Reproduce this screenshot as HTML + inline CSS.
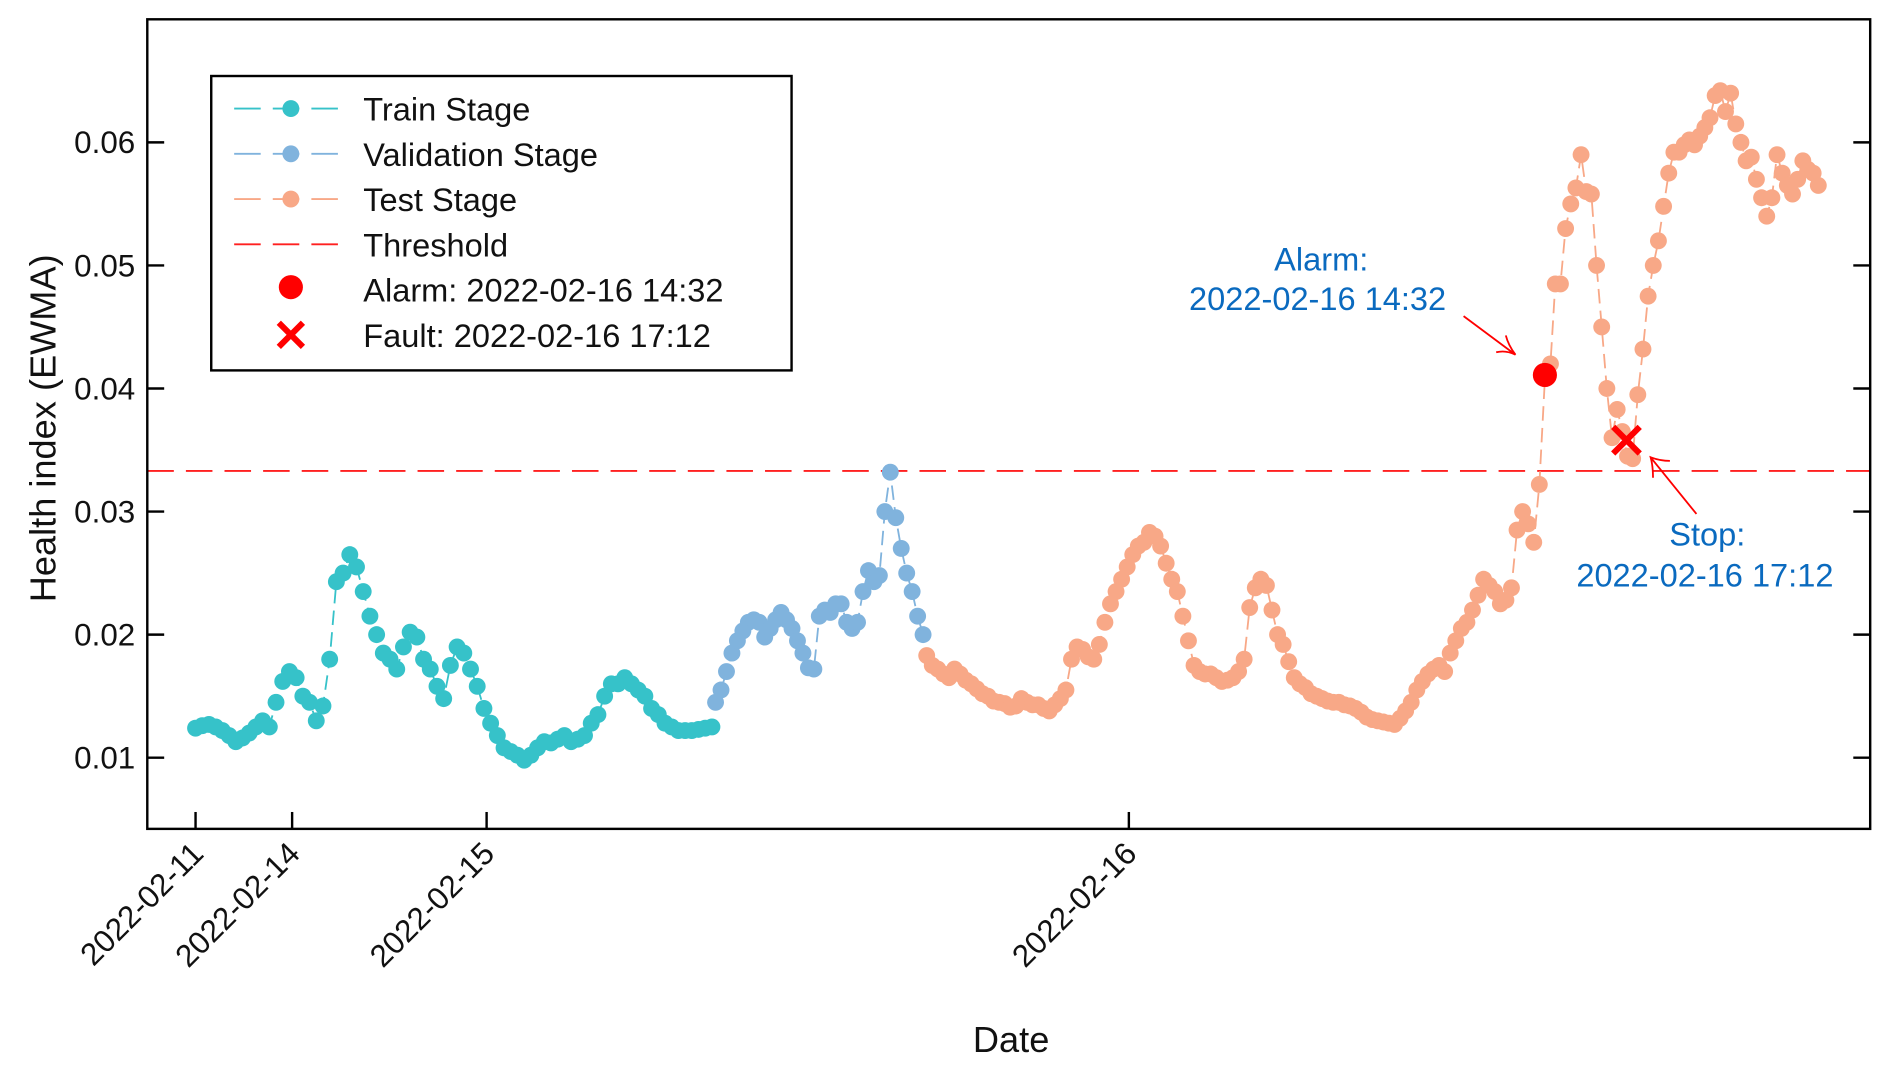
<!DOCTYPE html>
<html><head><meta charset="utf-8">
<style>
html,body{margin:0;padding:0;background:#fff;}
svg{display:block;font-family:"Liberation Sans",sans-serif;}
</style></head>
<body>
<svg id="chart" width="1892" height="1075" viewBox="0 0 1568 891" xmlns="http://www.w3.org/2000/svg">
<g id="plot"></g>
</svg>
<script>
const trainVals=[0.0124,0.0126,0.0127,0.0125,0.0122,0.0118,0.0113,0.0116,0.012,0.0125,0.013,0.0125,0.0145,0.0162,0.017,0.0165,0.015,0.0145,0.013,0.0142,0.018,0.0243,0.025,0.0265,0.0255,0.0235,0.0215,0.02,0.0185,0.018,0.0172,0.019,0.0202,0.0198,0.018,0.0172,0.0158,0.0148,0.0175,0.019,0.0185,0.0172,0.0158,0.014,0.0128,0.0118,0.0108,0.0105,0.0102,0.0098,0.0102,0.0108,0.0113,0.0112,0.0115,0.0118,0.0113,0.0115,0.0118,0.0128,0.0135,0.015,0.016,0.016,0.0165,0.016,0.0155,0.015,0.014,0.0135,0.0128,0.0125,0.0122,0.0122,0.0122,0.0123,0.0124,0.0125];
const valVals=[0.0145,0.0155,0.017,0.0185,0.0195,0.0203,0.021,0.0212,0.021,0.0198,0.0205,0.0212,0.0218,0.0212,0.0205,0.0195,0.0185,0.0173,0.0172,0.0215,0.022,0.0218,0.0225,0.0225,0.021,0.0205,0.021,0.0235,0.0252,0.0243,0.0248,0.03,0.0332,0.0295,0.027,0.025,0.0235,0.0215,0.02];
const testVals=[0.0183,0.0175,0.0172,0.0168,0.0165,0.0172,0.0168,0.0163,0.016,0.0156,0.0152,0.015,0.0146,0.0145,0.0144,0.0141,0.0142,0.0148,0.0145,0.0143,0.0143,0.014,0.0138,0.0143,0.0148,0.0155,0.018,0.019,0.0188,0.0182,0.018,0.0192,0.021,0.0225,0.0235,0.0245,0.0255,0.0265,0.0272,0.0275,0.0283,0.028,0.0272,0.0258,0.0245,0.0235,0.0215,0.0195,0.0175,0.017,0.0168,0.0168,0.0165,0.0162,0.0163,0.0165,0.017,0.018,0.0222,0.0238,0.0245,0.024,0.022,0.02,0.0192,0.0178,0.0165,0.016,0.0157,0.0152,0.015,0.0148,0.0146,0.0145,0.0145,0.0143,0.0142,0.014,0.0137,0.0133,0.0131,0.013,0.0129,0.0128,0.0127,0.0132,0.0138,0.0145,0.0155,0.0162,0.0168,0.0172,0.0175,0.017,0.0185,0.0195,0.0205,0.021,0.022,0.0232,0.0245,0.024,0.0235,0.0225,0.0228,0.0238,0.0285,0.03,0.029,0.0275,0.0322,0.0408,0.042,0.0485,0.0485,0.053,0.055,0.0563,0.059,0.056,0.0558,0.05,0.045,0.04,0.036,0.0383,0.0365,0.0345,0.0343,0.0395,0.0432,0.0475,0.05,0.052,0.0548,0.0575,0.0592,0.0592,0.0598,0.0602,0.0598,0.0605,0.0612,0.062,0.0638,0.0642,0.0625,0.064,0.0615,0.06,0.0585,0.0588,0.057,0.0555,0.054,0.0555,0.059,0.0575,0.0565,0.0558,0.057,0.0585,0.0578,0.0575,0.0565];
const yTicks=[0.01,0.02,0.03,0.04,0.05,0.06];
const yTickLabels=["0.01","0.02","0.03","0.04","0.05","0.06"];
const dateLabels=["2022-02-11","2022-02-14","2022-02-15","2022-02-16"];
const dateTickSamples=[0,14.4,43.4,153.3];
const threshold=0.0333;
const alarmValue=0.0411, alarmSample=117+111;
const faultValue=0.0358, faultSample=117+126.8;

const NS="http://www.w3.org/2000/svg";
const g=document.getElementById('plot');
const L=122,R=1550,T=16,B=687;
function y(v){return 628-(v-0.01)*10200;}
const nT=trainVals.length,nV=valVals.length,nS=testVals.length;
const testBreak=112;
function x(s){
  if(s<nT) return 162+(s/(nT-1))*(590-162);
  if(s<nT+nV) return 593+((s-nT)/(nV-1))*(765-593);
  const k=s-nT-nV;
  if(k<=testBreak) return 768+(k/testBreak)*(1285-768);
  return 1289+((k-testBreak-1)/(nS-testBreak-2))*(1507-1289);
}
function mk(tag,attrs,parent){const e=document.createElementNS(NS,tag);for(const k in attrs)e.setAttribute(k,attrs[k]);(parent||g).appendChild(e);return e;}

let th=mk('line',{x1:L,x2:R,y1:y(threshold),y2:y(threshold),stroke:'#ff2020','stroke-width':1.5,'stroke-dasharray':'22 10'});



function series(vals,off,color,name){
  const sg=mk('g',{});
  
  
  const pts=vals.map((v,i)=>x(off+i).toFixed(1)+','+y(v).toFixed(1)).join(' ');
  mk('polyline',{points:pts,fill:'none',stroke:color,'stroke-width':1.5,'stroke-dasharray':'12 6'},sg);
  vals.forEach((v,i)=>{
    const c=mk('circle',{cx:x(off+i),cy:y(v),r:7,fill:color},sg);
    
    
  });
}
series(trainVals,0,'#36c2c9','train-series');
series(valVals,nT,'#80b3dd','validation-series');
series(testVals,nT+nV,'#f8a887','test-series');

const ax=x(alarmSample),ay=y(alarmValue);
let am=mk('circle',{cx:ax,cy:ay,r:10,fill:'#ff0000'});


const fx=x(faultSample),fy=y(faultValue);
let fm=mk('path',{d:`M${fx-11},${fy-11}L${fx+11},${fy+11}M${fx+11},${fy-11}L${fx-11},${fy+11}`,stroke:'#ff0000','stroke-width':5});



let fr=mk('rect',{x:L,y:T,width:R-L,height:B-T,fill:'none',stroke:'#000','stroke-width':2});



yTicks.forEach((v,i)=>{
  mk('line',{x1:L,x2:L+14,y1:y(v),y2:y(v),stroke:'#000','stroke-width':2});
  mk('line',{x1:R-14,x2:R,y1:y(v),y2:y(v),stroke:'#000','stroke-width':2});
  const t=mk('text',{x:L-10,y:y(v)+9,'text-anchor':'end','font-size':26,fill:'#111'});
  t.textContent=yTickLabels[i];
  
  
});
dateLabels.forEach((d,i)=>{
  const px=x(dateTickSamples[i]);
  mk('line',{x1:px,x2:px,y1:B,y2:B-14,stroke:'#000','stroke-width':2});
  const t=mk('text',{x:0,y:0,'text-anchor':'end','font-size':26,fill:'#111',transform:`translate(${px+8},${B+22}) rotate(-45)`});
  t.textContent=d;
  
  
});

let xt=mk('text',{x:838,y:872,'text-anchor':'middle','font-size':30,fill:'#111'});xt.textContent='Date';


let yt=mk('text',{x:0,y:0,'text-anchor':'middle','font-size':30,fill:'#111',transform:'translate(46,355) rotate(-90)'});yt.textContent='Health index (EWMA)';



function txt(s,xx,yy,name){const t=mk('text',{x:xx,y:yy,'text-anchor':'middle','font-size':27,fill:'#0a6abf'});t.textContent=s;}
txt('Alarm:',1095,224,'alarm-annotation-title');
txt('2022-02-16 14:32',1092,257,'alarm-annotation-time');
txt('Stop:',1415,452,'stop-annotation-title');
txt('2022-02-16 17:12',1413,486,'stop-annotation-time');
let a1=mk('path',{d:'M1213,262L1256,294M1240,292Q1248,290 1256,294Q1250,286 1248,278',fill:'none',stroke:'#ff0000','stroke-width':1.5});


let a2=mk('path',{d:'M1406,426L1368,379M1370,396Q1370,386 1368,379Q1376,382 1384,382',fill:'none',stroke:'#ff0000','stroke-width':1.5});



const lg=mk('g',{});


mk('rect',{x:175,y:63,width:481,height:244,fill:'#fff',stroke:'#000','stroke-width':2},lg);
const entries=[['Train Stage','#36c2c9','pt'],['Validation Stage','#80b3dd','pt'],['Test Stage','#f8a887','pt'],['Threshold','#ff2020','line'],['Alarm: 2022-02-16 14:32','#ff0000','dot'],['Fault: 2022-02-16 17:12','#ff0000','x']];
entries.forEach((e,i)=>{
  const cy=90+i*37.5;
  const eg=mk('g',{},lg);
  
  
  if(e[2]==='pt'||e[2]==='line'){
    mk('line',{x1:194,x2:288,y1:cy,y2:cy,stroke:e[1],'stroke-width':1.5,'stroke-dasharray':'22 10'},eg);
  }
  if(e[2]==='pt') mk('circle',{cx:241,cy:cy,r:7,fill:e[1]},eg);
  if(e[2]==='dot') mk('circle',{cx:241,cy:cy-2,r:10,fill:e[1]},eg);
  if(e[2]==='x') mk('path',{d:`M231,${cy-10}L251,${cy+10}M251,${cy-10}L231,${cy+10}`,stroke:e[1],'stroke-width':5},eg);
  const t=mk('text',{x:301,y:cy+10,'font-size':27,fill:'#111'},eg);t.textContent=e[0];
});
</script>
</body></html>
